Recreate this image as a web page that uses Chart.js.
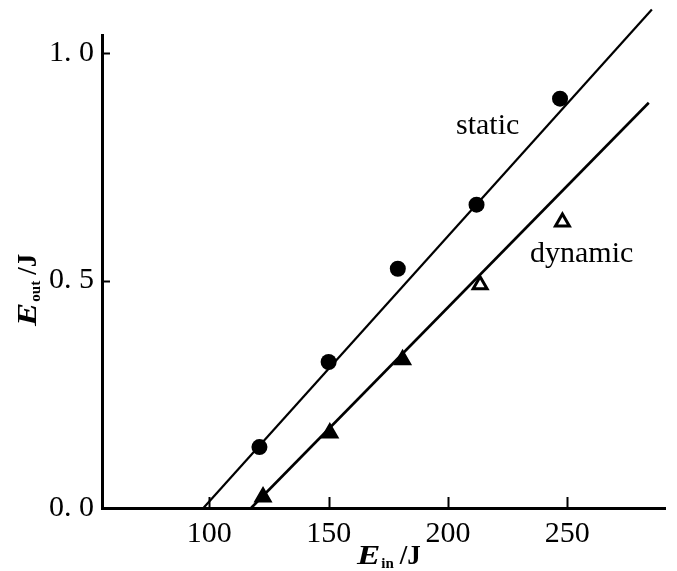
<!DOCTYPE html>
<html>
<head>
<meta charset="utf-8">
<script src="https://cdn.jsdelivr.net/npm/chart.js@4/dist/chart.umd.min.js"></script>
<style>
html,body{margin:0;padding:0;background:#fff;}
#wrap{width:677px;height:571px;}
</style>
</head>
<body>
<div id="wrap"><canvas id="c" width="677" height="571"></canvas></div>
<script>
// ---- data ----
const staticEin  = [121, 150, 179, 212, 247];
const staticEout = [0.134, 0.321, 0.526, 0.667, 0.900];
const dynamicEin  = [122.5, 150.5, 181, 213.5, 248];
const dynamicEout = [0.024, 0.165, 0.326, 0.491, 0.629];
const staticFitX = [97.5, 285.5];
const staticFitY = [0, 1.096];
const dynamicFitX = [117.5, 284.2];
const dynamicFitY = [0, 0.891];
const xTicks = [100, 150, 200, 250];
const yTicks = [0, 0.5, 1.0];
const seriesLabels = ['static', 'dynamic'];
const labelPos = [[203.4, 0.823], [234.4, 0.541]];

const pts = (xs, ys) => xs.map((x, i) => ({x: x, y: ys[i]}));
const FONT = '"Liberation Serif", "Times New Roman", serif';

const decor = {
  id: 'decor',
  afterDraw(chart) {
    const ctx = chart.ctx, xs = chart.scales.x, ys = chart.scales.y;
    const ca = chart.chartArea;
    ctx.save();
    ctx.strokeStyle = '#000';
    ctx.lineWidth = 2;
    // inward ticks
    xTicks.forEach(v => {
      const px = Math.round(xs.getPixelForValue(v)) + 0.5;
      ctx.beginPath(); ctx.moveTo(px, ca.bottom); ctx.lineTo(px, ca.bottom - 11); ctx.stroke();
    });
    yTicks.slice(1).forEach(v => {
      const py = Math.round(ys.getPixelForValue(v)) + 0.5;
      ctx.beginPath(); ctx.moveTo(ca.left, py); ctx.lineTo(ca.left + 8, py); ctx.stroke();
    });
    // series labels
    ctx.fillStyle = '#000';
    ctx.textBaseline = 'alphabetic';
    ctx.textAlign = 'left';
    ctx.font = '30px ' + FONT;
    seriesLabels.forEach((t, i) => {
      ctx.fillText(t, xs.getPixelForValue(labelPos[i][0]), ys.getPixelForValue(labelPos[i][1]));
    });
    // axis titles with subscripts
    const drawTitle = (main, sub, tail) => {
      ctx.save();
      ctx.scale(1.25, 1);
      ctx.font = 'italic bold 28px ' + FONT;
      ctx.fillText(main, 0, 0);
      const w = ctx.measureText(main).width * 1.25;
      ctx.restore();
      ctx.font = 'bold 15px ' + FONT;
      ctx.fillText(sub, w + 1, 4);
      const sw = ctx.measureText(sub).width;
      ctx.font = 'bold 27px ' + FONT;
      ctx.fillText(tail, w + 1 + sw + 6, 0);
    };
    ctx.save();
    ctx.translate(357, 564);
    drawTitle('E', 'in', '/J');
    ctx.restore();
    ctx.save();
    ctx.translate(36, 326);
    ctx.rotate(-Math.PI / 2);
    drawTitle('E', 'out', '/J');
    ctx.restore();
    ctx.restore();
  }
};

new Chart(document.getElementById('c'), {
  type: 'scatter',
  data: {
    datasets: [
      {
        label: 'static fit', type: 'line', data: pts(staticFitX, staticFitY),
        borderColor: '#000', borderWidth: 2.2, pointRadius: 0, fill: false, clip: false, order: 2
      },
      {
        label: 'dynamic fit', type: 'line', data: pts(dynamicFitX, dynamicFitY),
        borderColor: '#000', borderWidth: 2.6, pointRadius: 0, fill: false, clip: false, order: 2
      },
      {
        label: 'static', data: pts(staticEin, staticEout),
        pointStyle: 'circle', pointRadius: 8, pointBackgroundColor: '#000', pointBorderColor: '#000',
        pointBorderWidth: 0, order: 1
      },
      {
        label: 'dynamic', data: pts(dynamicEin, dynamicEout),
        pointStyle: 'triangle', pointRadius: 8,
        pointBackgroundColor: ['#000', '#000', '#000', '#fff', '#fff'],
        pointBorderColor: '#000', pointBorderWidth: 3, order: 1
      }
    ]
  },
  options: {
    responsive: false,
    animation: false,
    layout: {padding: {top: 35, right: 12, left: 0, bottom: 0}},
    plugins: {legend: {display: false}, tooltip: {enabled: false}},
    scales: {
      x: {
        type: 'linear', min: 55, max: 291,
        afterBuildTicks: s => { s.ticks = xTicks.map(v => ({value: v})); },
        afterFit: s => { s.height = 63; },
        grid: {display: false, drawTicks: false},
        border: {display: true, color: '#000', width: 3},
        ticks: {color: '#000', padding: 8, font: {family: FONT, size: 30}, callback: v => String(v)}
      },
      y: {
        type: 'linear', min: 0, max: 1.04,
        afterBuildTicks: s => { s.ticks = yTicks.map(v => ({value: v})); },
        afterFit: s => { s.width = 102; },
        grid: {display: false, drawTicks: false},
        border: {display: true, color: '#000', width: 3},
        ticks: {color: '#000', padding: 8, font: {family: FONT, size: 30},
                callback: v => v.toFixed(1).replace('.', '. ')}
      }
    }
  },
  plugins: [decor]
});
</script>
</body>
</html>
